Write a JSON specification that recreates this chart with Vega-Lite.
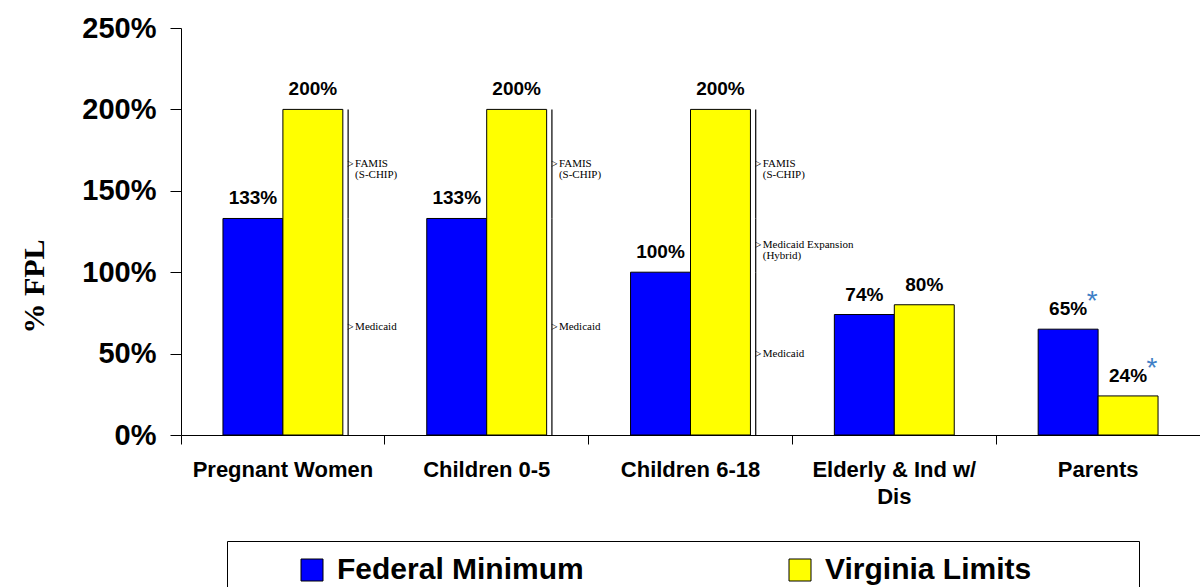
{
  "$schema": "https://vega.github.io/schema/vega-lite/v6.json",
  "width": 1019,
  "height": 407,
  "autosize": {"type": "none"},
  "padding": {"left": 181, "top": 28, "right": 0, "bottom": 152},
  "background": "white",
  "config": {"view": {"stroke": null}, "font": "Liberation Sans"},
  "datasets": {
    "bars": [
      {"group": "Pregnant Women", "series": "Federal Minimum", "value": 133, "label": "133%", "note": ""},
      {"group": "Pregnant Women", "series": "Virginia Limits", "value": 200, "label": "200%", "note": ""},
      {"group": "Children 0-5", "series": "Federal Minimum", "value": 133, "label": "133%", "note": ""},
      {"group": "Children 0-5", "series": "Virginia Limits", "value": 200, "label": "200%", "note": ""},
      {"group": "Children 6-18", "series": "Federal Minimum", "value": 100, "label": "100%", "note": ""},
      {"group": "Children 6-18", "series": "Virginia Limits", "value": 200, "label": "200%", "note": ""},
      {"group": "Elderly & Ind w/ Dis", "series": "Federal Minimum", "value": 74, "label": "74%", "note": ""},
      {"group": "Elderly & Ind w/ Dis", "series": "Virginia Limits", "value": 80, "label": "80%", "note": ""},
      {"group": "Parents", "series": "Federal Minimum", "value": 65, "label": "65%", "note": "*"},
      {"group": "Parents", "series": "Virginia Limits", "value": 24, "label": "24%", "note": "*"}
    ],
    "braces": [
      {"group": "Pregnant Women", "program": "FAMIS\n(S-CHIP)", "low": 133, "high": 200, "mid": 166.5},
      {"group": "Pregnant Women", "program": "Medicaid", "low": 0, "high": 133, "mid": 66.5},
      {"group": "Children 0-5", "program": "FAMIS\n(S-CHIP)", "low": 133, "high": 200, "mid": 166.5},
      {"group": "Children 0-5", "program": "Medicaid", "low": 0, "high": 133, "mid": 66.5},
      {"group": "Children 6-18", "program": "FAMIS\n(S-CHIP)", "low": 133, "high": 200, "mid": 166.5},
      {"group": "Children 6-18", "program": "Medicaid Expansion\n(Hybrid)", "low": 100, "high": 133, "mid": 116.5},
      {"group": "Children 6-18", "program": "Medicaid", "low": 0, "high": 100, "mid": 50}
    ]
  },
  "resolve": {"axis": {"x": "independent"}},
  "layer": [
    {
      "data": {"name": "bars"},
      "mark": {"type": "bar", "stroke": "black", "strokeWidth": 1},
      "encoding": {
        "x": {
          "field": "group", "type": "nominal",
          "scale": {"domain": ["Pregnant Women", "Children 0-5", "Children 6-18", "Elderly & Ind w/ Dis", "Parents"], "paddingInner": 0, "paddingOuter": 0},
          "axis": {
            "orient": "bottom", "title": null, "labelAngle": 0, "ticks": false, "domain": false,
            "labelFont": "Liberation Sans", "labelFontWeight": "bold", "labelFontSize": 22, "labelColor": "black",
            "labelPadding": 24, "labelBaseline": "top", "labelLineHeight": 27, "labelLimit": 300,
            "labelExpr": "datum.value == 'Elderly & Ind w/ Dis' ? ['Elderly & Ind w/', 'Dis'] : datum.value"
          }
        },
        "xOffset": {
          "field": "series", "type": "nominal",
          "scale": {"domain": ["Federal Minimum", "Virginia Limits"], "paddingInner": 0, "paddingOuter": 0.7}
        },
        "y": {
          "field": "value", "type": "quantitative",
          "scale": {"domain": [0, 250], "nice": false},
          "axis": {
            "title": "% FPL", "titleFont": "Liberation Serif", "titleFontWeight": "bold", "titleFontSize": 30, "titleColor": "black",
            "titleAngle": -90, "titleX": -147, "titleY": 258, "titleAlign": "center", "titleBaseline": "middle",
            "values": [0, 50, 100, 150, 200, 250], "labelExpr": "datum.value + '%'",
            "labelFont": "Liberation Sans", "labelFontWeight": "bold", "labelFontSize": 29, "labelColor": "black",
            "labelPadding": 14, "tickSize": 11, "tickColor": "black", "domainColor": "black", "grid": false
          }
        },
        "color": {
          "field": "series", "type": "nominal",
          "scale": {"domain": ["Federal Minimum", "Virginia Limits"], "range": ["#0000FF", "#FFFF00"]},
          "legend": {
            "title": " ", "titleOrient": "right", "titlePadding": 94, "titleFontSize": 10,
            "orient": "none", "legendX": 46, "legendY": 513, "direction": "horizontal",
            "symbolType": "square", "symbolSize": 484, "symbolStrokeColor": "black", "symbolStrokeWidth": 1, "symbolOpacity": 1,
            "symbolOffset": 56, "labelOffset": 10,
            "labelFont": "Liberation Sans", "labelFontWeight": "bold", "labelFontSize": 30, "labelColor": "black", "labelLimit": 400,
            "columnPadding": 145, "strokeColor": "black", "padding": 14, "fillColor": "white"
          }
        }
      }
    },
    {
      "data": {"name": "bars"},
      "mark": {"type": "text", "font": "Liberation Sans", "fontWeight": "bold", "fontSize": 19, "dy": -14, "baseline": "alphabetic", "color": "black"},
      "encoding": {
        "x": {
          "field": "group", "type": "nominal",
          "axis": {"orient": "bottom", "title": null, "labels": false, "ticks": true, "tickSize": 9, "tickColor": "black", "bandPosition": 0, "domain": true, "domainColor": "black"}
        },
        "xOffset": {"field": "series", "type": "nominal"},
        "y": {"field": "value", "type": "quantitative"},
        "text": {"field": "label"}
      }
    },
    {
      "data": {"name": "bars"},
      "transform": [{"filter": "datum.note != ''"}],
      "mark": {"type": "text", "font": "Liberation Sans", "fontSize": 28, "dx": 24, "dy": -19, "baseline": "alphabetic", "color": "#3f7fc6"},
      "encoding": {
        "x": {"field": "group", "type": "nominal", "axis": null},
        "xOffset": {"field": "series", "type": "nominal"},
        "y": {"field": "value", "type": "quantitative"},
        "text": {"field": "note"}
      }
    },
    {
      "data": {"name": "braces"},
      "mark": {"type": "rule", "color": "black", "strokeWidth": 1.2},
      "encoding": {
        "x": {"field": "group", "type": "nominal", "bandPosition": 0.82, "axis": null},
        "y": {"field": "low", "type": "quantitative"},
        "y2": {"field": "high"}
      }
    },
    {
      "data": {"name": "braces"},
      "mark": {"type": "text", "font": "Liberation Serif", "fontSize": 12, "align": "left", "baseline": "middle", "dx": -1, "color": "black"},
      "encoding": {
        "x": {"field": "group", "type": "nominal", "bandPosition": 0.82, "axis": null},
        "y": {"field": "mid", "type": "quantitative"},
        "text": {"value": ">"}
      }
    },
    {
      "data": {"name": "braces"},
      "mark": {"type": "text", "font": "Liberation Serif", "fontSize": 11, "lineHeight": 11, "align": "left", "baseline": "middle", "dx": 7, "lineBreak": "\n", "color": "black"},
      "encoding": {
        "x": {"field": "group", "type": "nominal", "bandPosition": 0.82, "axis": null},
        "y": {"field": "mid", "type": "quantitative"},
        "text": {"field": "program"}
      }
    }
  ]
}
